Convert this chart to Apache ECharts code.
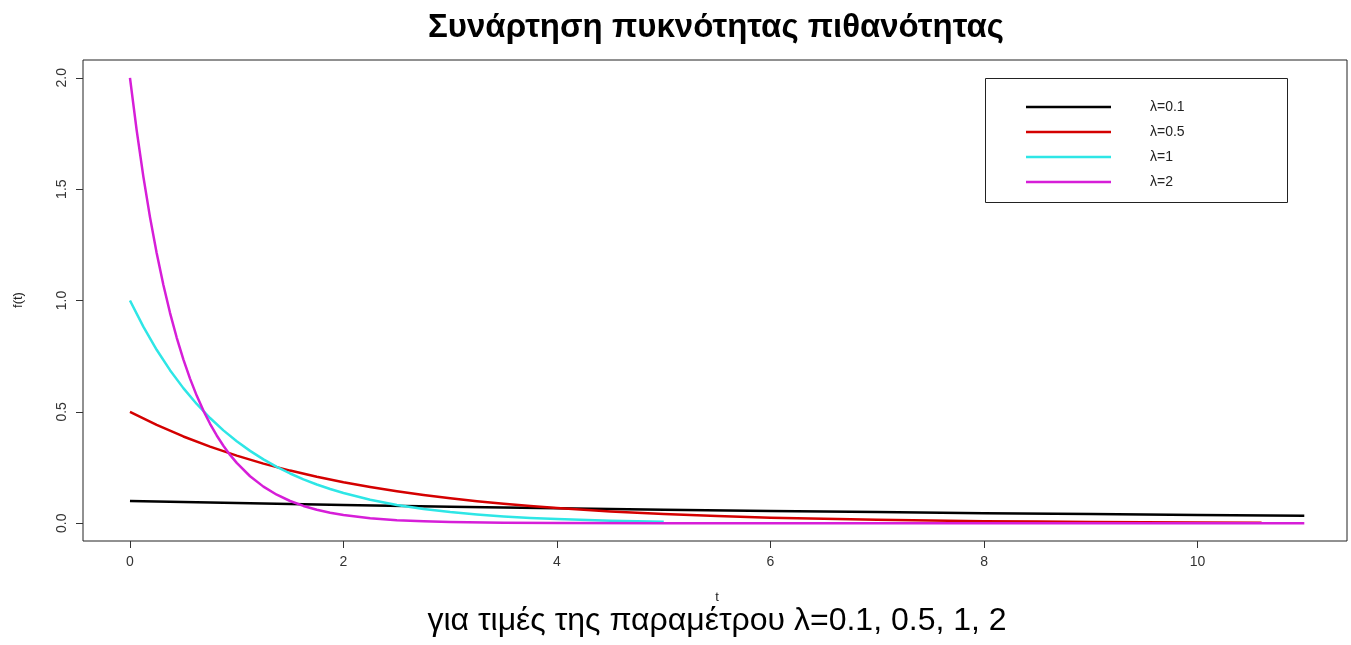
<!DOCTYPE html>
<html><head><meta charset="utf-8">
<script src="https://cdn.jsdelivr.net/npm/echarts@6/dist/echarts.min.js"></script>
<style>html,body{margin:0;padding:0;background:#fff}#c{width:1351px;height:645px}</style>
</head><body><div id="c"></div>
<script>
const titleText = 'Συνάρτηση πυκνότητας πιθανότητας';
const subtitleText = 'για τιμές της παραμέτρου λ=0.1, 0.5, 1, 2';
const xTitle = 't';
const yTitle = 'f(t)';
const xTicks = [0, 2, 4, 6, 8, 10];
const yTicks = [0, 0.5, 1, 1.5, 2];
const names = ['λ=0.1', 'λ=0.5', 'λ=1', 'λ=2'];
const colors = ['#000000', '#d40000', '#2ee6e6', '#d61ed8'];

// λ=0.1
const tA = [0, 1, 2, 3, 4, 5, 6, 7, 8, 9, 10, 11];
const fA = [0.1, 0.0905, 0.0819, 0.0741, 0.0670, 0.0607, 0.0549, 0.0497, 0.0449, 0.0407, 0.0368, 0.0333];

// λ=0.5
const tB = [0, 0.25, 0.5, 0.75, 1, 1.25, 1.5, 1.75, 2, 2.25, 2.5, 2.75, 3, 3.25, 3.5, 3.75, 4, 4.5, 5, 5.5, 6, 6.5, 7, 7.5, 8, 8.5, 9, 9.5, 10, 10.6];
const fB = [0.5, 0.4412, 0.3894, 0.3436, 0.3033, 0.2676, 0.2362, 0.2084, 0.1839, 0.1623, 0.1433, 0.1264, 0.1116, 0.0985, 0.0869, 0.0767, 0.0677, 0.0527, 0.0410, 0.0320, 0.0249, 0.0194, 0.0151, 0.0118, 0.0092, 0.0071, 0.0056, 0.0043, 0.0034, 0.0025];

// λ=1
const tC = [0, 0.125, 0.25, 0.375, 0.5, 0.625, 0.75, 0.875, 1, 1.125, 1.25, 1.375, 1.5, 1.625, 1.75, 1.875, 2, 2.25, 2.5, 2.75, 3, 3.25, 3.5, 3.75, 4, 4.5, 5];
const fC = [1, 0.8825, 0.7788, 0.6873, 0.6065, 0.5353, 0.4724, 0.4169, 0.3679, 0.3247, 0.2865, 0.2528, 0.2231, 0.1969, 0.1738, 0.1534, 0.1353, 0.1054, 0.0821, 0.0639, 0.0498, 0.0388, 0.0302, 0.0235, 0.0183, 0.0111, 0.0067];

// λ=2
const tD = [0, 0.0625, 0.125, 0.1875, 0.25, 0.3125, 0.375, 0.4375, 0.5, 0.5625, 0.625, 0.6875, 0.75, 0.8125, 0.875, 0.9375, 1, 1.125, 1.25, 1.375, 1.5, 1.625, 1.75, 1.875, 2, 2.25, 2.5, 2.75, 3, 3.5, 4, 5, 6, 8, 11];
const fD = [2, 1.7650, 1.5576, 1.3746, 1.2131, 1.0705, 0.9447, 0.8337, 0.7358, 0.6493, 0.5730, 0.5057, 0.4463, 0.3938, 0.3476, 0.3067, 0.2707, 0.2108, 0.1642, 0.1278, 0.0996, 0.0775, 0.0604, 0.0470, 0.0366, 0.0222, 0.0135, 0.0082, 0.0050, 0.0018, 0.0007, 0.0001, 0, 0, 0];

const tSets = [tA, tB, tC, tD];
const fSets = [fA, fB, fC, fD];

const FONT = '"Liberation Sans", Arial, sans-serif';
const chart = echarts.init(document.getElementById('c'), null, {renderer: 'canvas'});

const gridL = 83, gridT = 60, gridW = 1264, gridH = 481;

const series = names.map((n, i) => ({
  name: n,
  type: 'line',
  data: tSets[i].map((t, j) => [t, fSets[i][j]]),
  symbol: 'none',
  smooth: false,
  lineStyle: {color: colors[i], width: 2.5, join: 'round'},
  itemStyle: {color: colors[i]},
  z: 2 + i
}));

chart.setOption({
  animation: false,
  backgroundColor: '#ffffff',
  grid: {left: gridL, top: gridT, width: gridW, height: gridH, show: true, borderColor: '#222', borderWidth: 1, backgroundColor: 'transparent'},
  xAxis: {
    type: 'value', min: -0.44, max: 11.4,
    axisLine: {show: false, onZero: false},
    splitLine: {show: false},
    axisTick: {show: true, length: 7, customValues: xTicks, lineStyle: {color: '#333'}},
    axisLabel: {customValues: xTicks, margin: 14, fontFamily: FONT, fontSize: 14, color: '#333'}
  },
  yAxis: {
    type: 'value', min: -0.08, max: 2.08,
    axisLine: {show: false, onZero: false},
    splitLine: {show: false},
    axisTick: {show: true, length: 7, customValues: yTicks, lineStyle: {color: '#333'}},
    axisLabel: {customValues: yTicks, rotate: 90, margin: 14, fontFamily: FONT, fontSize: 14, color: '#333',
      formatter: v => v.toFixed(1)}
  },
  legend: {
    orient: 'vertical', left: 1021, top: 95,
    itemWidth: 85, itemHeight: 14, itemGap: 11,
    data: names.map((n, i) => ({name: n, icon: 'path://M0,0L85,0L85,2.5L0,2.5Z', itemStyle: {color: colors[i]}})),
    textStyle: {fontFamily: FONT, fontSize: 14, color: '#222', padding: [0, 0, 0, 34]},
    selectedMode: false
  },
  graphic: [
    {type: 'rect', shape: {x: 985.5, y: 78.5, width: 302, height: 124}, style: {fill: 'none', stroke: '#222', lineWidth: 1}, z: 1},
    {type: 'text', x: 716, y: 28, style: {text: titleText, fontFamily: FONT, fontSize: 33, fontWeight: 'bold', fill: '#000', textAlign: 'center', textVerticalAlign: 'middle'}},
    {type: 'text', x: 717, y: 597, style: {text: xTitle, fontFamily: FONT, fontSize: 13, fill: '#222', textAlign: 'center', textVerticalAlign: 'middle'}},
    {type: 'text', x: 18, y: 300, rotation: Math.PI / 2, style: {text: yTitle, fontFamily: FONT, fontSize: 13, fill: '#222', textAlign: 'center', textVerticalAlign: 'middle'}},
    {type: 'text', x: 717, y: 621, style: {text: subtitleText, fontFamily: FONT, fontSize: 32, fill: '#000', textAlign: 'center', textVerticalAlign: 'middle'}}
  ],
  series: series
});
</script>
</body></html>
